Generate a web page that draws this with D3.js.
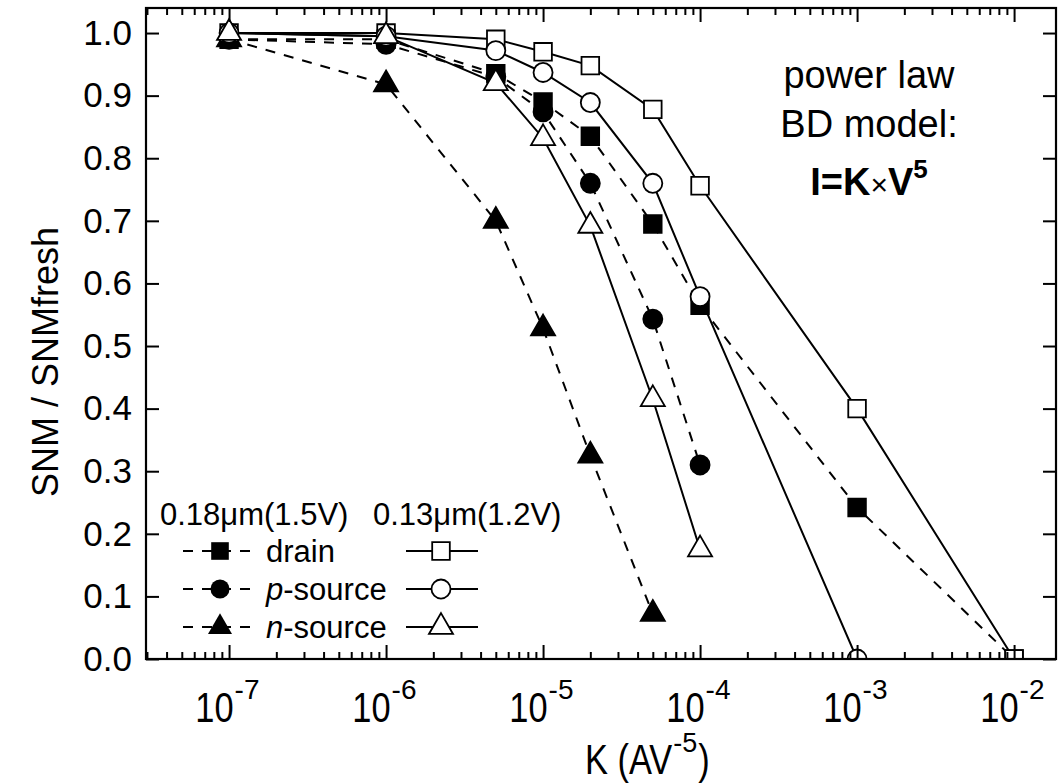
<!DOCTYPE html>
<html><head><meta charset="utf-8">
<script src="https://cdn.jsdelivr.net/npm/d3@7"></script>
<style>
body{margin:0;background:#fff}
svg text{font-family:"Liberation Sans",Arial,sans-serif;fill:#000}
</style>
</head><body>
<svg id="chart" width="1063" height="784"></svg>
<script>
// ---- data ----
const kValues = [1e-7, 1e-6, 5e-6, 1e-5, 2e-5, 5e-5, 1e-4, 1e-3, 1e-2];
const drain018   = [0.99, 0.99, 0.935, 0.89, 0.835, 0.695, 0.565, 0.242, 0.0];
const pSource018 = [0.99, 0.982, 0.93, 0.874, 0.76, 0.543, 0.31];
const nSource018 = [0.99, 0.918, 0.70, 0.528, 0.325, 0.072];
const drain013   = [1.0, 1.0, 0.99, 0.97, 0.948, 0.878, 0.756, 0.40, 0.0];
const pSource013 = [1.0, 0.995, 0.972, 0.937, 0.889, 0.76, 0.579, 0.0];
const nSource013 = [1.0, 0.995, 0.92, 0.832, 0.692, 0.415, 0.175];
const yTicks = [0.0, 0.1, 0.2, 0.3, 0.4, 0.5, 0.6, 0.7, 0.8, 0.9, 1.0];
const xMajorTicks = [1e-7, 1e-6, 1e-5, 1e-4, 1e-3, 1e-2];
const xTickExponents = ["-7", "-6", "-5", "-4", "-3", "-2"];
const legendHeaders = ["0.18\u03BCm(1.5V)", "0.13\u03BCm(1.2V)"];
const legendLabels = [["", "drain"], ["p", "-source"], ["n", "-source"]];
const noteLines = ["power law", "BD model:"];

// ---- layout ----
const L = 146, R = 1056, T = 8, B = 659;
const SX = 0.8; // horizontal squeeze of the x-axis texts
const svg = d3.select("#chart");
const x = d3.scaleLog().domain([Math.pow(10, -7.529), Math.pow(10, -1.733)]).range([L, R]);
const y = d3.scaleLinear().domain([0, 1.04]).range([B, T]);

const series = [
  {vals: drain018,   dashed: true,  sym: d3.symbolSquare,   filled: true},
  {vals: pSource018, dashed: true,  sym: d3.symbolCircle,   filled: true},
  {vals: nSource018, dashed: true,  sym: d3.symbolTriangle, filled: true},
  {vals: drain013,   dashed: false, sym: d3.symbolSquare,   filled: false},
  {vals: pSource013, dashed: false, sym: d3.symbolCircle,   filled: false},
  {vals: nSource013, dashed: false, sym: d3.symbolTriangle, filled: false}
];
const symSize = s => s === d3.symbolSquare ? 310 : (s === d3.symbolCircle ? 285 : 250);
const DASH = "10,9";

svg.append("clipPath").attr("id", "clip").append("rect")
  .attr("x", L).attr("y", T).attr("width", R - L).attr("height", B - T);

const plot = svg.append("g").attr("clip-path", "url(#clip)");
const line = d3.line().x(d => x(d[0])).y(d => y(d[1]));

series.forEach(s => {
  const pts = s.vals.map((v, i) => [kValues[i], v]);
  plot.append("path").attr("d", line(pts)).attr("fill", "none")
    .attr("stroke", "#000").attr("stroke-width", 2)
    .attr("stroke-dasharray", s.dashed ? DASH : null);
});
[...series.filter(s => s.filled), ...series.filter(s => !s.filled)].forEach(s => {
  const pts = s.vals.map((v, i) => [kValues[i], v]);
  plot.selectAll(null).data(pts).enter().append("path")
    .attr("transform", d => `translate(${x(d[0])},${y(d[1])})`)
    .attr("d", d3.symbol().type(s.sym).size(symSize(s.sym)))
    .attr("fill", s.filled ? "#000" : "#fff")
    .attr("stroke", "#000").attr("stroke-width", 1.8);
});

// ---- axes ----
const minorTicks = [];
for (let e = -8; e <= -2; e++) for (let m = 2; m <= 9; m++) {
  const v = m * Math.pow(10, e);
  if (v > x.domain()[0] && v < x.domain()[1]) minorTicks.push(v);
}
function styleAxis(g) {
  g.select(".domain").remove();
  g.selectAll("line").attr("stroke", "#000").attr("stroke-width", 2);
}
const gxb = svg.append("g").attr("transform", `translate(0,${B})`)
  .call(d3.axisBottom(x).tickValues(xMajorTicks).tickSizeInner(-14).tickSizeOuter(0).tickPadding(0).tickFormat(() => "10"));
styleAxis(gxb);
gxb.selectAll(".tick text")
  .attr("font-size", 43).attr("font-family", "Liberation Sans, Arial, sans-serif")
  .attr("text-anchor", "end").attr("dy", null).attr("y", 63)
  .attr("transform", `translate(4,0) scale(${SX},1)`);
gxb.selectAll(".tick").append("text")
  .attr("x", 5).attr("y", 40).attr("font-size", 28).attr("fill", "#000")
  .attr("text-anchor", "start")
  .attr("font-family", "Liberation Sans, Arial, sans-serif")
  .text((d, i) => xTickExponents[i]);
svg.append("g").attr("transform", `translate(0,${B})`)
  .call(d3.axisBottom(x).tickValues(minorTicks).tickSizeInner(-7).tickSizeOuter(0).tickFormat(() => ""))
  .call(styleAxis);
svg.append("g").attr("transform", `translate(0,${T})`)
  .call(d3.axisTop(x).tickValues(xMajorTicks).tickSizeInner(-14).tickSizeOuter(0).tickFormat(() => ""))
  .call(styleAxis);
svg.append("g").attr("transform", `translate(0,${T})`)
  .call(d3.axisTop(x).tickValues(minorTicks).tickSizeInner(-7).tickSizeOuter(0).tickFormat(() => ""))
  .call(styleAxis);
const gyl = svg.append("g").attr("transform", `translate(${L},0)`)
  .call(d3.axisLeft(y).tickValues(yTicks).tickSizeInner(-13).tickSizeOuter(0).tickPadding(14).tickFormat(d3.format(".1f")));
styleAxis(gyl);
gyl.selectAll(".tick text").attr("font-size", 35).attr("font-family", "Liberation Sans, Arial, sans-serif");
svg.append("g").attr("transform", `translate(${R},0)`)
  .call(d3.axisRight(y).tickValues(yTicks).tickSizeInner(-13).tickSizeOuter(0).tickFormat(() => ""))
  .call(styleAxis);
svg.append("rect").attr("x", L).attr("y", T).attr("width", R - L).attr("height", B - T)
  .attr("fill", "none").attr("stroke", "#000").attr("stroke-width", 2.2);

// ---- titles ----
const xtX = 585;
const xt1 = svg.append("text").attr("transform", `translate(${xtX},774) scale(${SX},1)`)
  .attr("font-size", 43).text("K (AV");
const w1 = xt1.node().getComputedTextLength() * SX;
const xt2 = svg.append("text").attr("x", xtX + w1 + 1).attr("y", 752).attr("font-size", 27).text("-5");
const w2 = xt2.node().getComputedTextLength();
svg.append("text").attr("transform", `translate(${xtX + w1 + w2 + 2},774) scale(${SX},1)`)
  .attr("font-size", 43).text(")");
svg.append("text").attr("transform", "translate(58,362) rotate(-90)")
  .attr("text-anchor", "middle").attr("font-size", 36).text("SNM / SNMfresh");

// ---- annotation ----
noteLines.forEach((t, i) => {
  svg.append("text").attr("x", 869).attr("y", [88, 137][i]).attr("text-anchor", "middle")
    .attr("font-size", 38).text(t);
});
const eq = svg.append("text").attr("x", 869).attr("y", 195).attr("text-anchor", "middle")
  .attr("font-size", 38).attr("font-weight", "bold");
eq.append("tspan").text("I=K");
eq.append("tspan").attr("font-weight", "normal").attr("font-size", 30).text("\u00D7");
eq.append("tspan").text("V");
eq.append("tspan").attr("dy", -17).attr("font-size", 26).text("5");

// ---- legend ----
svg.append("text").attr("x", 160).attr("y", 525).attr("font-size", 31).text(legendHeaders[0]);
svg.append("text").attr("x", 373).attr("y", 525).attr("font-size", 31).text(legendHeaders[1]);
const rowY = [551, 589, 627];
const legSyms = [d3.symbolSquare, d3.symbolCircle, d3.symbolTriangle];
rowY.forEach((ry, i) => {
  svg.append("line").attr("x1", 183).attr("x2", 256).attr("y1", ry).attr("y2", ry)
    .attr("stroke", "#000").attr("stroke-width", 2).attr("stroke-dasharray", DASH);
  svg.append("path").attr("transform", `translate(220,${ry})`)
    .attr("d", d3.symbol().type(legSyms[i]).size(symSize(legSyms[i]))).attr("fill", "#000");
  svg.append("line").attr("x1", 406).attr("x2", 478).attr("y1", ry).attr("y2", ry)
    .attr("stroke", "#000").attr("stroke-width", 2);
  svg.append("path").attr("transform", `translate(441,${ry})`)
    .attr("d", d3.symbol().type(legSyms[i]).size(symSize(legSyms[i])))
    .attr("fill", "#fff").attr("stroke", "#000").attr("stroke-width", 1.8);
  const t = svg.append("text").attr("x", 266).attr("y", ry + 11).attr("font-size", 31);
  if (legendLabels[i][0]) t.append("tspan").attr("font-style", "italic").text(legendLabels[i][0]);
  t.append("tspan").text(legendLabels[i][1]);
});
</script>
</body></html>
